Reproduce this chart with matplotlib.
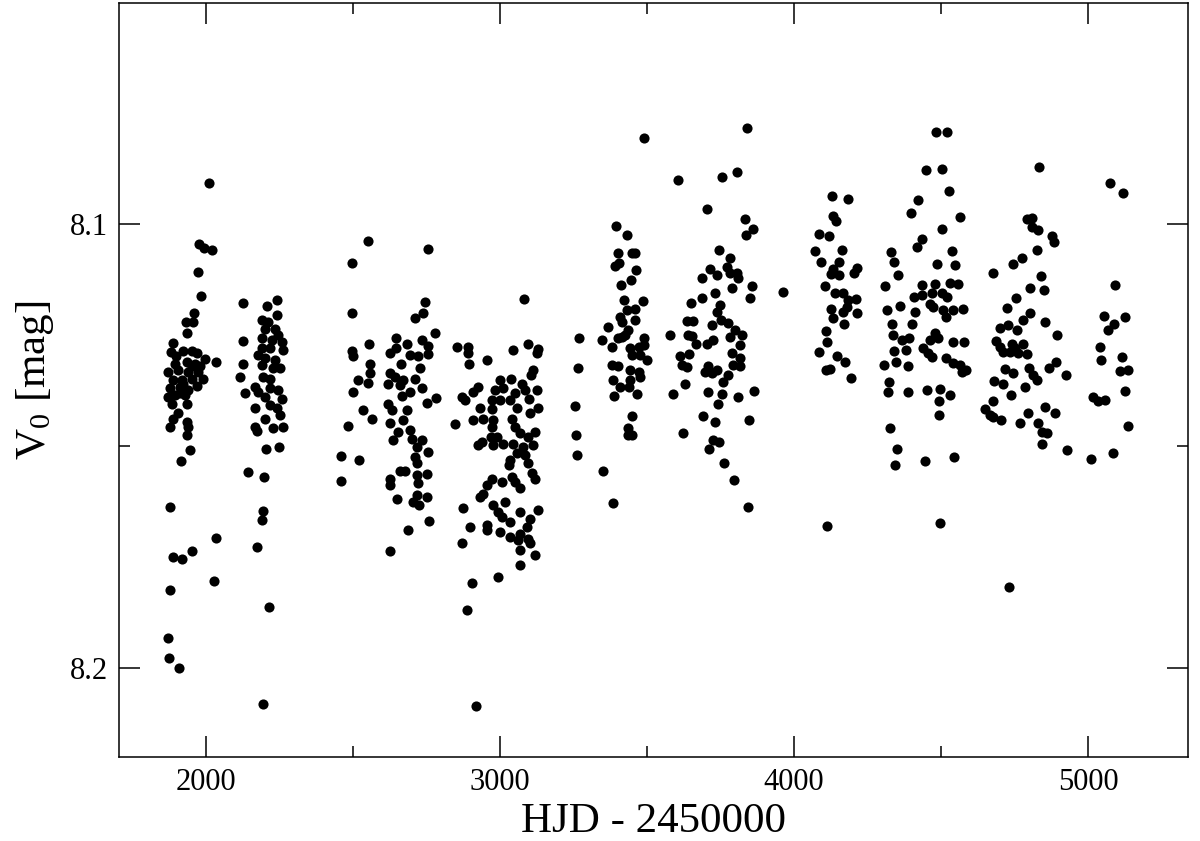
import numpy as np
import matplotlib
matplotlib.use("Agg")
import matplotlib.pyplot as plt
from matplotlib.ticker import MultipleLocator

plt.rcParams['font.family'] = ['Liberation Serif', 'DejaVu Serif']
plt.rcParams['mathtext.fontset'] = 'custom'
plt.rcParams['mathtext.rm'] = 'Liberation Serif'
plt.rcParams['mathtext.it'] = 'Liberation Serif:italic'

# season 1 (~1870-2040)
s1_hjd = [2009, 1976, 1994, 2021, 1974, 1982, 1959, 1932, 1957, 1936, 1889, 1880, 1923, 1951,
          1968, 1997, 2034, 1895, 1934, 1963, 1872, 1906, 1940, 1974, 1889, 1917, 1951, 1991,
          1878, 1912, 1940, 1968, 1895, 1929, 1872, 1912, 1934, 1906, 1889, 1934, 1940, 1878,
          1934, 1898, 1952, 1922, 1885, 1980, 1946, 1915, 1878, 2034, 1953, 1887, 1919, 2028,
          1878, 1872, 1874, 1908]
s1_v0 = [8.0907, 8.1045, 8.1053, 8.1059, 8.1108, 8.1162, 8.1200, 8.1220, 8.1221, 8.1246, 8.1267,
         8.1288, 8.1286, 8.1286, 8.1291, 8.1304, 8.1310, 8.1314, 8.1310, 8.1314, 8.1333, 8.1329,
         8.1333, 8.1333, 8.1351, 8.1351, 8.1348, 8.1348, 8.1370, 8.1366, 8.1374, 8.1365, 8.1385,
         8.1385, 8.1389, 8.1381, 8.1404, 8.1426, 8.1438, 8.1445, 8.1457, 8.1457, 8.1475, 8.1297,
         8.1320, 8.1360, 8.1405, 8.1320, 8.1509, 8.1534, 8.1637, 8.1707, 8.1737, 8.1750, 8.1753,
         8.1804, 8.1824, 8.1933, 8.1978, 8.1999]

# season 2 (~2110-2270)
s2_hjd = [2127, 2240, 2206, 2240, 2189, 2201, 2235, 2127, 2189, 2223, 2257, 2189, 2218, 2263,
          2201, 2235, 2127, 2116, 2189, 2252, 2195, 2218, 2167, 2218, 2246, 2133, 2201, 2257,
          2167, 2218, 2240, 2201, 2252, 2167, 2229, 2263, 2211, 2245, 2177, 2228, 2177, 2172,
          2204, 2249, 2142, 2198, 2193, 2189, 2172, 2214, 2192]
s2_v0 = [8.1177, 8.1170, 8.1185, 8.1205, 8.1215, 8.1237, 8.1237, 8.1264, 8.1257, 8.1261, 8.1265,
         8.1280, 8.1280, 8.1284, 8.1302, 8.1306, 8.1314, 8.1344, 8.1318, 8.1325, 8.1344, 8.1348,
         8.1366, 8.1370, 8.1374, 8.1381, 8.1389, 8.1393, 8.1415, 8.1408, 8.1415, 8.1438, 8.1430,
         8.1457, 8.1460, 8.1457, 8.1221, 8.1250, 8.1295, 8.1324, 8.1378, 8.1466, 8.1507, 8.1502,
         8.1558, 8.1569, 8.1646, 8.1667, 8.1727, 8.1863, 8.2080]

# season 3 (~2450-2790)
s3_hjd = [2552, 2756, 2496, 2745, 2739, 2709, 2496, 2779, 2646, 2554, 2683, 2734, 2756, 2496,
          2499, 2626, 2646, 2694, 2722, 2754, 2663, 2558, 2558, 2728, 2518, 2550, 2626, 2643,
          2671, 2620, 2660, 2711, 2694, 2734, 2666, 2499, 2751, 2781, 2620, 2632, 2535, 2564,
          2683, 2484, 2624, 2671, 2654, 2694, 2635, 2700, 2734, 2717, 2754, 2709, 2717, 2458,
          2521, 2458, 2658, 2677, 2626, 2626, 2717, 2753, 2722, 2649, 2717, 2751, 2705, 2725,
          2760, 2688, 2624]
s3_v0 = [8.1038, 8.1056, 8.1087, 8.1175, 8.1201, 8.1212, 8.1201, 8.1246, 8.1257, 8.1270, 8.1269,
         8.1260, 8.1275, 8.1285, 8.1297, 8.1290, 8.1279, 8.1295, 8.1297, 8.1293, 8.1315, 8.1315,
         8.1336, 8.1325, 8.1351, 8.1357, 8.1336, 8.1344, 8.1350, 8.1359, 8.1363, 8.1348, 8.1378,
         8.1370, 8.1387, 8.1379, 8.1402, 8.1391, 8.1404, 8.1419, 8.1419, 8.1439, 8.1419, 8.1454,
         8.1448, 8.1441, 8.1468, 8.1464, 8.1486, 8.1483, 8.1485, 8.1502, 8.1514, 8.1524, 8.1538,
         8.1522, 8.1532, 8.1578, 8.1556, 8.1556, 8.1573, 8.1588, 8.1565, 8.1563, 8.1584, 8.1618,
         8.1610, 8.1614, 8.1625, 8.1633, 8.1669, 8.1689, 8.1736]

# season 4 (~2840-3130)
s4_hjd = [2853, 2892, 2892, 2896, 2955, 3043, 3096, 3130, 3125, 3113, 3104, 3000, 3037, 3074,
          3085, 2926, 2909, 2870, 2881, 2983, 3011, 3051, 3125, 2972, 3000, 3034, 3100, 2932,
          2972, 3057, 3130, 2847, 2909, 2943, 2977, 3040, 3102, 2972, 3051, 3068, 3119, 3096,
          2970, 2989, 2938, 2926, 3011, 2977, 3045, 3079, 3113, 3057, 3034, 3085, 3096, 3030,
          3108, 3119, 2972, 3006, 3040, 3051, 2955, 3068, 2943, 2932, 2977, 3017, 2875, 2994,
          3006, 3034, 3068, 3130, 3102, 2955, 2955, 2898, 3000, 3034, 3068, 3091, 3096, 3062,
          2870, 3102, 3068, 3119, 3068, 2994, 2904, 3082, 2888, 2918]
s4_v0 = [8.1276, 8.1276, 8.1291, 8.1314, 8.1306, 8.1284, 8.1270, 8.1282, 8.1291, 8.1329, 8.1340,
         8.1351, 8.1348, 8.1359, 8.1374, 8.1366, 8.1378, 8.1390, 8.1396, 8.1374, 8.1370, 8.1381,
         8.1374, 8.1396, 8.1396, 8.1396, 8.1393, 8.1415, 8.1417, 8.1415, 8.1415, 8.1449, 8.1441,
         8.1438, 8.1441, 8.1438, 8.1426, 8.1457, 8.1457, 8.1471, 8.1468, 8.1479, 8.1479, 8.1479,
         8.1490, 8.1498, 8.1496, 8.1498, 8.1494, 8.1502, 8.1498, 8.1516, 8.1532, 8.1520, 8.1539,
         8.1543, 8.1561, 8.1573, 8.1575, 8.1580, 8.1569, 8.1580, 8.1588, 8.1595, 8.1607, 8.1614,
         8.1633, 8.1625, 8.1640, 8.1648, 8.1659, 8.1670, 8.1648, 8.1644, 8.1663, 8.1678, 8.1689,
         8.1682, 8.1693, 8.1704, 8.1697, 8.1682, 8.1708, 8.1712, 8.1719, 8.1719, 8.1734, 8.1746,
         8.1768, 8.1794, 8.1809, 8.1169, 8.1869, 8.2086]

# season 5 (~3250-3500)
s5_hjd = [3491, 3395, 3431, 3402, 3448, 3458, 3406, 3391, 3463, 3445, 3412, 3422, 3486, 3431,
          3459, 3408, 3414, 3459, 3368, 3436, 3425, 3270, 3346, 3380, 3402, 3414, 3488, 3488,
          3442, 3471, 3448, 3476, 3499, 3380, 3402, 3442, 3471, 3476, 3266, 3385, 3408, 3442,
          3438, 3389, 3465, 3255, 3448, 3436, 3436, 3448, 3259, 3261, 3351, 3383]
s5_v0 = [8.0807, 8.1004, 8.1025, 8.1065, 8.1065, 8.1065, 8.1087, 8.1095, 8.1104, 8.1126, 8.1137,
         8.1171, 8.1173, 8.1194, 8.1192, 8.1209, 8.1220, 8.1216, 8.1231, 8.1239, 8.1250, 8.1257,
         8.1261, 8.1276, 8.1257, 8.1254, 8.1257, 8.1273, 8.1280, 8.1276, 8.1295, 8.1295, 8.1306,
         8.1318, 8.1320, 8.1329, 8.1333, 8.1344, 8.1325, 8.1350, 8.1366, 8.1351, 8.1366, 8.1387,
         8.1383, 8.1410, 8.1432, 8.1460, 8.1475, 8.1475, 8.1475, 8.1520, 8.1556, 8.1628]

# season 6 (~3570-3870, plus 3964)
s6_hjd = [3839, 3805, 3754, 3605, 3703, 3833, 3862, 3835, 3746, 3782, 3714, 3771, 3782, 3805,
          3810, 3686, 3737, 3856, 3788, 3964, 3731, 3850, 3688, 3650, 3748, 3737, 3635, 3657,
          3752, 3776, 3720, 3578, 3640, 3652, 3799, 3822, 3782, 3667, 3703, 3725, 3816, 3612,
          3644, 3788, 3816, 3618, 3635, 3708, 3697, 3720, 3737, 3793, 3816, 3776, 3760, 3629,
          3589, 3706, 3756, 3810, 3865, 3742, 3692, 3731, 3848, 3623, 3725, 3746, 3712, 3763,
          3796, 3845]
s6_v0 = [8.0784, 8.0882, 8.0893, 8.0901, 8.0965, 8.0989, 8.1012, 8.1025, 8.1059, 8.1077, 8.1102,
         8.1096, 8.1111, 8.1110, 8.1122, 8.1121, 8.1115, 8.1139, 8.1143, 8.1152, 8.1156, 8.1167,
         8.1167, 8.1177, 8.1182, 8.1198, 8.1218, 8.1218, 8.1215, 8.1222, 8.1226, 8.1250, 8.1250,
         8.1252, 8.1239, 8.1250, 8.1254, 8.1270, 8.1269, 8.1261, 8.1273, 8.1297, 8.1293, 8.1291,
         8.1302, 8.1318, 8.1321, 8.1320, 8.1333, 8.1336, 8.1329, 8.1318, 8.1320, 8.1340, 8.1355,
         8.1359, 8.1383, 8.1379, 8.1383, 8.1389, 8.1376, 8.1404, 8.1432, 8.1445, 8.1440, 8.1470,
         8.1486, 8.1490, 8.1507, 8.1538, 8.1577, 8.1637]

# season 7 (~4070-4215)
s7_hjd = [4130, 4185, 4134, 4142, 4085, 4119, 4071, 4162, 4091, 4154, 4134, 4125, 4154, 4213,
          4205, 4105, 4140, 4165, 4185, 4211, 4125, 4168, 4179, 4213, 4131, 4170, 4108, 4113,
          4086, 4145, 4174, 4109, 4122, 4194, 4111]
s7_v0 = [8.0936, 8.0944, 8.0981, 8.0993, 8.1023, 8.1026, 8.1061, 8.1059, 8.1086, 8.1085, 8.1100,
         8.1113, 8.1115, 8.1098, 8.1110, 8.1140, 8.1156, 8.1154, 8.1171, 8.1169, 8.1192, 8.1198,
         8.1186, 8.1199, 8.1212, 8.1225, 8.1240, 8.1266, 8.1288, 8.1297, 8.1311, 8.1329, 8.1326,
         8.1347, 8.1680]

# season 8 (~4300-4590)
s8_hjd = [4483, 4521, 4448, 4504, 4527, 4423, 4398, 4565, 4502, 4434, 4419, 4329, 4340, 4536,
          4485, 4548, 4355, 4310, 4436, 4480, 4531, 4559, 4408, 4434, 4468, 4502, 4519, 4361,
          4317, 4463, 4474, 4412, 4508, 4542, 4574, 4400, 4516, 4332, 4338, 4366, 4392, 4480,
          4463, 4491, 4542, 4578, 4438, 4457, 4468, 4341, 4381, 4307, 4347, 4387, 4517, 4542,
          4565, 4585, 4570, 4323, 4321, 4389, 4451, 4497, 4531, 4494, 4494, 4326, 4349, 4344,
          4445, 4544, 4497]
s8_v0 = [8.0792, 8.0792, 8.0878, 8.0875, 8.0925, 8.0946, 8.0975, 8.0984, 8.1012, 8.1034, 8.1051,
         8.1062, 8.1085, 8.1060, 8.1090, 8.1092, 8.1115, 8.1139, 8.1137, 8.1134, 8.1132, 8.1135,
         8.1164, 8.1160, 8.1156, 8.1156, 8.1164, 8.1185, 8.1194, 8.1179, 8.1186, 8.1198, 8.1194,
         8.1194, 8.1192, 8.1224, 8.1209, 8.1225, 8.1250, 8.1260, 8.1257, 8.1245, 8.1261, 8.1257,
         8.1265, 8.1265, 8.1280, 8.1291, 8.1299, 8.1286, 8.1284, 8.1318, 8.1310, 8.1319, 8.1302,
         8.1312, 8.1318, 8.1329, 8.1333, 8.1355, 8.1379, 8.1378, 8.1374, 8.1372, 8.1385, 8.1398,
         8.1430, 8.1460, 8.1507, 8.1543, 8.1533, 8.1525, 8.1673]

# season 9 (~4650-4930)
s9_hjd = [4834, 4792, 4808, 4808, 4831, 4876, 4884, 4826, 4774, 4746, 4678, 4839, 4803, 4850,
          4755, 4723, 4803, 4780, 4854, 4701, 4729, 4757, 4893, 4687, 4701, 4712, 4740, 4752,
          4780, 4763, 4792, 4735, 4868, 4890, 4925, 4718, 4746, 4800, 4814, 4826, 4681, 4712,
          4786, 4737, 4678, 4650, 4667, 4678, 4703, 4795, 4854, 4888, 4769, 4831, 4842, 4861,
          4842, 4930, 4732]
s9_v0 = [8.0871, 8.0989, 8.0987, 8.1007, 8.1014, 8.1027, 8.1040, 8.1059, 8.1077, 8.1089, 8.1110,
         8.1117, 8.1143, 8.1149, 8.1166, 8.1189, 8.1200, 8.1216, 8.1221, 8.1235, 8.1227, 8.1239,
         8.1250, 8.1263, 8.1276, 8.1288, 8.1269, 8.1280, 8.1270, 8.1291, 8.1293, 8.1288, 8.1325,
         8.1311, 8.1339, 8.1327, 8.1335, 8.1325, 8.1340, 8.1351, 8.1354, 8.1361, 8.1366, 8.1384,
         8.1398, 8.1417, 8.1430, 8.1434, 8.1441, 8.1425, 8.1411, 8.1425, 8.1448, 8.1448, 8.1468,
         8.1470, 8.1494, 8.1509, 8.1818]

# season 10 (~5000-5140)
s10_hjd = [5075, 5120, 5092, 5054, 5126, 5088, 5069, 5041, 5044, 5115, 5109, 5137, 5126, 5018,
           5035, 5058, 5137, 5009, 5086]
s10_v0 = [8.0908, 8.0929, 8.1137, 8.1207, 8.1209, 8.1224, 8.1239, 8.1276, 8.1306, 8.1300, 8.1330,
          8.1329, 8.1375, 8.1389, 8.1398, 8.1396, 8.1455, 8.1528, 8.1515]

hjd = np.concatenate([s1_hjd, s2_hjd, s3_hjd, s4_hjd, s5_hjd, s6_hjd, s7_hjd, s8_hjd, s9_hjd, s10_hjd])
v0 = np.concatenate([s1_v0, s2_v0, s3_v0, s4_v0, s5_v0, s6_v0, s7_v0, s8_v0, s9_v0, s10_v0])

fig = plt.figure(figsize=(12, 8.41), dpi=100)
ax = fig.add_axes([0.0992, 0.0999, 0.8908, 0.8965])

ax.plot(hjd, v0, 'o', color='black', markersize=7.3, markeredgewidth=0)

ax.set_xlim(1704, 5340)
ax.set_ylim(8.2200, 8.0502)

ax.xaxis.set_major_locator(MultipleLocator(1000))
ax.xaxis.set_minor_locator(MultipleLocator(500))
ax.yaxis.set_major_locator(MultipleLocator(0.1))
ax.yaxis.set_minor_locator(MultipleLocator(0.05))
ax.yaxis.set_major_formatter(matplotlib.ticker.FormatStrFormatter('%.1f'))

ax.tick_params(which='both', direction='in', top=True, right=True, width=1.1, labelsize=22)
ax.tick_params(which='major', length=15, pad=8)
ax.tick_params(which='minor', length=8)
for sp in ax.spines.values():
    sp.set_linewidth(1.1)

ax.set_xlabel('HJD - 2450000', fontsize=31, labelpad=4)
ax.set_ylabel(r'$\mathrm{V_0}$ [mag]', fontsize=31, labelpad=10)

fig.savefig('out.png', dpi=100)
